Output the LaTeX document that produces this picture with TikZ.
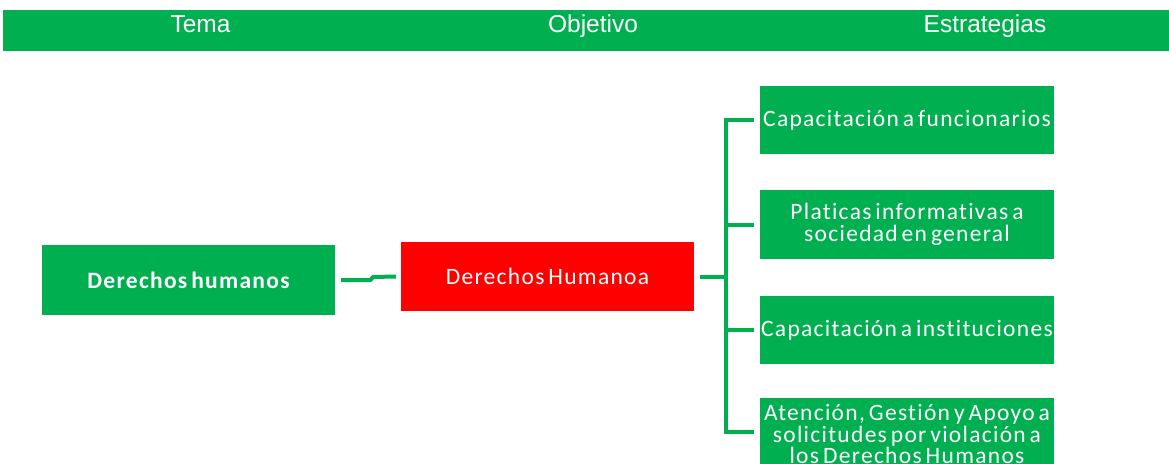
\documentclass[tikz,border=0pt]{standalone}
\usepackage{fontspec}
\setmainfont{Carlito}
\newfontfamily\boxfont[LetterSpace=5.5,WordSpace=0.6,Ligatures=NoCommon]{Carlito}
\newfontfamily\hdrfont{Liberation Sans}
\definecolor{offgreen}{HTML}{00B050}
\definecolor{offred}{HTML}{FF0000}
\tikzset{
  box/.style={fill=offgreen, draw=none, text=white, inner sep=0pt, minimum width=294pt, minimum height=69pt, align=center,
    font=\boxfont\fontsize{23.5}{22.3}\selectfont},
  redbox/.style={box, fill=offred},
  hdr/.style={text=white, anchor=base, inner sep=0pt, font=\hdrfont\fontsize{24.5}{24}\selectfont},
  conn/.style={draw=offgreen, line width=4pt}
}
\begin{document}
\begin{tikzpicture}[x=1pt,y=-1pt]
\useasboundingbox (0,0) rectangle (1169,463);
\clip (0,0) rectangle (1169,463);
% header bar
\node[fill=offgreen, inner sep=0pt, minimum width=1166pt, minimum height=41pt, anchor=north west] (bar) at (3,10) {};
\node[hdr] (h1) at (200.5,32.5) {Tema};
\node[hdr] (h2) at (593,32.5) {Objetivo};
\node[hdr] (h3) at (985,32.5) {Estrategias};
% boxes
\node[box, minimum width=293pt, minimum height=70pt, font=\boxfont\bfseries\fontsize{23.5}{22}\selectfont] (tema) at (188.5,280) {Derechos humanos};
\node[redbox, minimum width=293pt] (obj) at (547.5,276.5) {Derechos Humanoa};
\node[box, minimum height=68pt] (e1) at (907,120) {Capacitación a funcionarios};
\node[box] (e2) at (907,224.5) {Platicas informativas a\\sociedad en general};
\node[box, minimum height=68pt] (e3) at (907,330) {Capacitación a instituciones};
\node[box, minimum height=72pt, font=\boxfont\fontsize{23.5}{21.7}\selectfont] (e4) at (907,434) {Atención, Gestión y Apoyo a\\solicitudes por violación a\\los Derechos Humanos};
% connector tema -> objetivo
\draw[conn] ([xshift=6pt]tema.east) -- ++(29,0) -- ++(3,-3) -- ([xshift=-5pt]obj.west);
% bracket
\coordinate (bt) at (726,120);
\coordinate (bb) at (726,432);
\coordinate (b4) at ([xshift=-6pt]e4.west);
\draw[conn, line cap=rect] (bt) -- (bb);
\draw[conn] ([xshift=6pt]obj.east) -- (obj.east -| bt);
\draw[conn] (e1.west -| bt) -- ([xshift=-6pt]e1.west);
\draw[conn] (e2.west -| bt) -- ([xshift=-6pt]e2.west);
\draw[conn] (e3.west -| bt) -- ([xshift=-6pt]e3.west);
\draw[conn] (bb) -- (bb -| b4);
\end{tikzpicture}
\end{document}
